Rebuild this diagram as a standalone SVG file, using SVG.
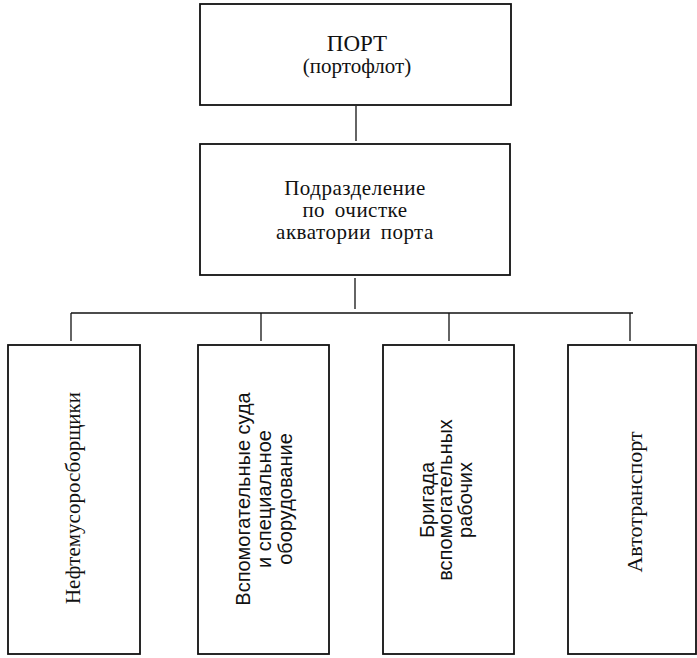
<svg xmlns="http://www.w3.org/2000/svg" width="697" height="658" viewBox="0 0 697 658">
<style>
  .box { fill: #ffffff; stroke: #111111; stroke-width: 1.8; }
  .conn line { stroke: #111111; stroke-width: 1.3; }
  .serif { font-family: 'Liberation Serif', 'Times New Roman', 'DejaVu Serif', serif; fill: #111111; text-anchor: middle; }
  .sans { font-family: 'Liberation Sans', Arial, 'DejaVu Sans', sans-serif; fill: #111111; text-anchor: middle; }
</style>
<rect width="697" height="658" fill="#ffffff"/>
<g id="connectors" class="conn">
  <line x1="356" y1="106" x2="356" y2="141"/>
  <line x1="355" y1="278" x2="355" y2="309"/>
  <line x1="71" y1="313" x2="633" y2="313"/>
  <line x1="71" y1="313" x2="71" y2="341"/>
  <line x1="261" y1="313" x2="261" y2="341"/>
  <line x1="449" y1="313" x2="449" y2="341"/>
  <line x1="630" y1="313" x2="630" y2="341"/>
</g>
<g id="port">
  <rect class="box" x="200" y="4" width="311" height="101"/>
  <text class="serif" font-family="Liberation Serif, serif" x="357" y="51" font-size="23">ПОРТ</text>
  <text class="serif" font-family="Liberation Serif, serif" x="357" y="73" font-size="21">(портофлот)</text>
</g>
<g id="division">
  <rect class="box" x="200" y="144" width="310" height="131"/>
  <text class="serif" x="355" y="195" font-size="21" letter-spacing="0.5">Подразделение</text>
  <text class="serif" x="355" y="217" font-size="21" letter-spacing="0.5" word-spacing="4">по очистке</text>
  <text class="serif" x="355" y="239" font-size="21" letter-spacing="0.5" word-spacing="4">акватории порта</text>
</g>
<g id="oil-collectors">
  <rect class="box" x="8" y="345" width="132" height="309"/>
  <text class="serif" font-size="21" transform="translate(80,498) rotate(-90)">Нефтемусоросборщики</text>
</g>
<g id="aux-vessels">
  <rect class="box" x="198" y="345" width="131" height="309"/>
  <text class="sans" font-size="20" transform="translate(250,499) rotate(-90)">Вспомогательные суда</text>
  <text class="sans" font-size="20" transform="translate(271,499) rotate(-90)">и специальное</text>
  <text class="sans" font-size="20" transform="translate(292,499) rotate(-90)">оборудование</text>
</g>
<g id="workers">
  <rect class="box" x="383" y="345" width="131" height="309"/>
  <text class="sans" font-size="20" transform="translate(434,500) rotate(-90)">Бригада</text>
  <text class="sans" font-size="20" transform="translate(452,500) rotate(-90)">вспомогательных</text>
  <text class="sans" font-size="20" transform="translate(472,500) rotate(-90)">рабочих</text>
</g>
<g id="auto">
  <rect class="box" x="568" y="345" width="128" height="309"/>
  <text class="serif" font-size="22" transform="translate(642,502) rotate(-90)">Автотранспорт</text>
</g>
</svg>
